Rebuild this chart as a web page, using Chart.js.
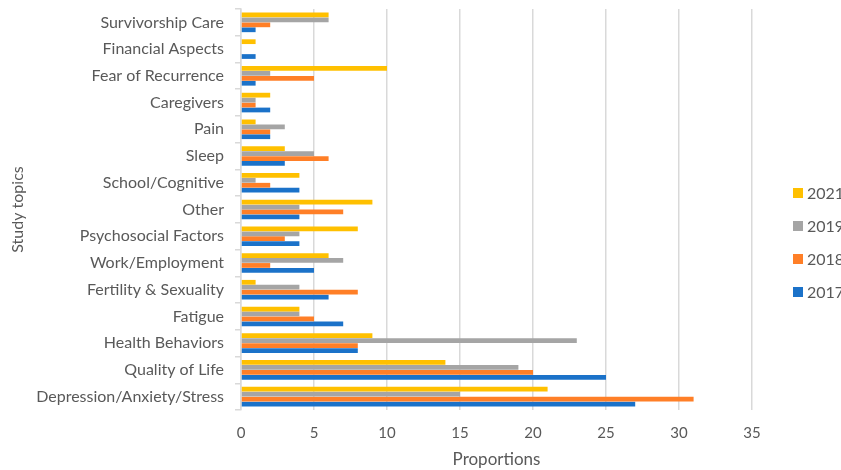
<!DOCTYPE html>
<html>
<head>
<meta charset="utf-8">
<script src="https://cdn.jsdelivr.net/npm/chart.js@4/dist/chart.umd.min.js"></script>
<style>
  html, body { margin: 0; padding: 0; background: #ffffff; }
  #wrap { width: 841px; height: 470px; position: relative; }
</style>
</head>
<body>
<div id="wrap"><canvas id="chart"></canvas></div>
<script>
// Study topics, listed top to bottom
const topics = [
  'Survivorship Care', 'Financial Aspects', 'Fear of Recurrence', 'Caregivers',
  'Pain', 'Sleep', 'School/Cognitive', 'Other', 'Psychosocial Factors',
  'Work/Employment', 'Fertility & Sexuality', 'Fatigue', 'Health Behaviors',
  'Quality of Life', 'Depression/Anxiety/Stress'
];

// Proportions per year, same order as topics
const y2021 = [6, 1, 10, 2, 1, 3, 4, 9, 8, 6, 1, 4, 9, 14, 21];
const y2019 = [6, 0, 2, 1, 3, 5, 1, 4, 4, 7, 4, 4, 23, 19, 15];
const y2018 = [2, 0, 5, 1, 2, 6, 2, 7, 3, 2, 8, 5, 8, 20, 31];
const y2017 = [1, 1, 1, 2, 2, 3, 4, 4, 4, 5, 6, 7, 8, 25, 27];

const xTicks = [0, 5, 10, 15, 20, 25, 30, 35];

const textColor = '#595959';
const gridColor = '#d9d9d9';
const fontFamily = 'Lato, "Open Sans", sans-serif';

// Legend drawn as a vertical list at the right of the plot
const sideLegend = {
  id: 'sideLegend',
  afterDraw(chart) {
    const ctx = chart.ctx;
    const sets = chart.data.datasets;
    ctx.save();
    ctx.font = '16px ' + fontFamily;
    ctx.textBaseline = 'middle';
    ctx.textAlign = 'left';
    sets.forEach((ds, i) => {
      const cy = 193 + i * 33;
      ctx.fillStyle = ds.backgroundColor;
      ctx.fillRect(793, cy - 5, 10, 10);
      ctx.fillStyle = textColor;
      ctx.fillText(ds.label, 807, cy + 1);
    });
    ctx.restore();
  }
};

new Chart(document.getElementById('chart'), {
  type: 'bar',
  data: {
    labels: topics,
    datasets: [
      { label: '2021', data: y2021, backgroundColor: '#FFC000' },
      { label: '2019', data: y2019, backgroundColor: '#A5A5A5' },
      { label: '2018', data: y2018, backgroundColor: '#FF7F27' },
      { label: '2017', data: y2017, backgroundColor: '#1B72C9' }
    ]
  },
  options: {
    indexAxis: 'y',
    responsive: true,
    maintainAspectRatio: false,
    animation: false,
    layout: { padding: { top: 9, right: 89, bottom: 0, left: 0 } },
    datasets: {
      bar: { categoryPercentage: 0.74, barPercentage: 0.96 }
    },
    plugins: {
      legend: { display: false },
      tooltip: { enabled: false }
    },
    scales: {
      x: {
        type: 'linear',
        min: 0,
        max: 35,
        afterBuildTicks(scale) {
          scale.ticks = xTicks.map(v => ({ value: v }));
        },
        afterFit(scale) { scale.height = 60; },
        grid: { color: gridColor, lineWidth: 1.5, drawTicks: false },
        border: { display: false },
        ticks: {
          color: textColor,
          font: { family: fontFamily, size: 15 },
          padding: 14
        },
        title: {
          display: true,
          text: 'Proportions',
          color: textColor,
          font: { family: fontFamily, size: 17 },
          padding: { top: 0, bottom: 0 }
        }
      },
      y: {
        type: 'category',
        afterFit(scale) {
          scale.width = 241;
          scale.paddingTop = 0;
          scale.paddingBottom = 0;
        },
        grid: {
          offset: true,
          drawOnChartArea: false,
          drawTicks: true,
          tickLength: 6,
          color: gridColor,
          lineWidth: 1.5
        },
        border: { display: true, color: gridColor, width: 1.5 },
        ticks: {
          color: textColor,
          font: { family: fontFamily, size: 16 },
          padding: 11,
          autoSkip: false
        },
        title: {
          display: true,
          text: 'Study topics',
          color: textColor,
          font: { family: fontFamily, size: 16 },
          padding: { top: 8, bottom: 0 }
        }
      }
    }
  },
  plugins: [sideLegend]
});
</script>
</body>
</html>
